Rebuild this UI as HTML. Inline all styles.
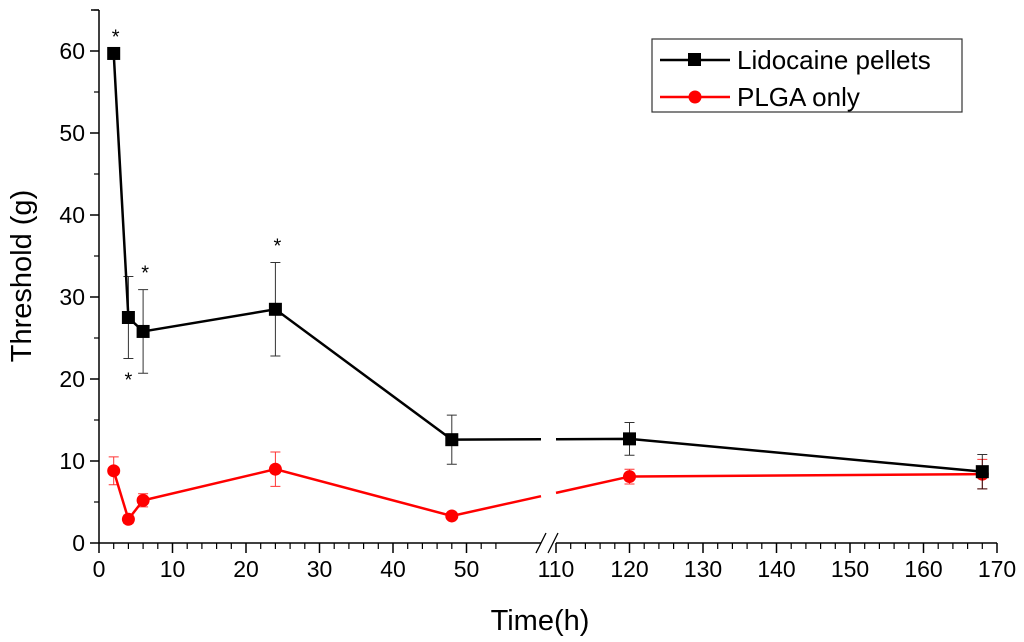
<!DOCTYPE html>
<html><head><meta charset="utf-8"><style>
html,body{margin:0;padding:0;background:#fff;}
svg{display:block;font-family:"Liberation Sans",Arial,sans-serif;}
</style></head><body>
<svg id="chart" width="1024" height="642" viewBox="0 0 1024 642" xmlns="http://www.w3.org/2000/svg">
<g id="axes"></g>
<g id="series"></g>
<g>
  <rect x="652" y="39" width="310" height="73" fill="#fff" stroke="#333" stroke-width="1.2"/>
  <g>
    <line x1="660" y1="60" x2="730" y2="60" stroke="#000" stroke-width="2.5"/>
    <rect x="688" y="53" width="13" height="13" fill="#000"/>
    <text x="737" y="69" font-size="26">Lidocaine pellets</text>
  </g>
  <g>
    <line x1="660" y1="97" x2="730" y2="97" stroke="#f00" stroke-width="2.5"/>
    <circle cx="695" cy="97" r="6.5" fill="#f00"/>
    <text x="737" y="106" font-size="26">PLGA only</text>
  </g>
</g>
<text x="540" y="630" font-size="29" text-anchor="middle">Time(h)</text>
<text transform="translate(31,276) rotate(-90)" font-size="29" text-anchor="middle">Threshold (g)</text>
</svg>
<script>
const times = [2, 4, 6, 24, 48, 120, 168];
const lidoValues = [59.7, 27.5, 25.8, 28.5, 12.6, 12.7, 8.7];
const lidoErrors = [0, 5.0, 5.1, 5.7, 3.0, 2.0, 2.1];
const plgaValues = [8.8, 2.9, 5.2, 9.0, 3.3, 8.1, 8.4];
const plgaErrors = [1.7, 0.5, 0.8, 2.1, 0.3, 0.9, 1.8];
const starTimes = [2, 4, 6, 24];
const starBelow = [false, true, false, false];
const xTicksLeft = [0, 10, 20, 30, 40, 50];
const xTicksRight = [110, 120, 130, 140, 150, 160, 170];
const yTicks = [0, 10, 20, 30, 40, 50, 60];

const NS = "http://www.w3.org/2000/svg";
const X0 = 99, Y0 = 543, XR = 556, K = 7.35;
function xs(t){ return t <= 56 ? X0 + t * K : XR + (t - 110) * K; }
function ys(v){ return Y0 - v * 8.2; }
function mk(tag, attrs, parent){ const e = document.createElementNS(NS, tag); for (const k in attrs) e.setAttribute(k, attrs[k]); parent.appendChild(e); return e; }

const axes = document.getElementById('axes');
const series = document.getElementById('series');
let el;
el = mk('line', {x1:X0, y1:10, x2:X0, y2:Y0, stroke:'#000', 'stroke-width':1.5}, axes);


el = mk('path', {d:`M${X0} ${Y0}H541 M556 ${Y0}H${xs(170)}`, stroke:'#000', 'stroke-width':1.5, fill:'none'}, axes);


el = mk('path', {d:`M536 ${Y0+10}L546 ${Y0-10} M548 ${Y0+10}L558 ${Y0-10}`, stroke:'#000', 'stroke-width':1.3, fill:'none'}, axes);


mk('line', {x1:X0-8, y1:10, x2:X0, y2:10, stroke:'#000', 'stroke-width':1.5}, axes);
yTicks.forEach((v, i) => {
  const y = ys(v);
  mk('line', {x1:X0-9, y1:y, x2:X0, y2:y, stroke:'#000', 'stroke-width':1.5}, axes);
  mk('line', {x1:X0-5, y1:ys(v+5), x2:X0, y2:ys(v+5), stroke:'#000', 'stroke-width':1.2}, axes);
  const t = mk('text', {x:X0-14, y:y+8, 'font-size':23, 'text-anchor':'end'}, axes);
  t.textContent = v;
  
  
});
function xTickSet(ticks, minorEnd){
  ticks.forEach((v, i) => {
    const x = xs(v);
    mk('line', {x1:x, y1:Y0, x2:x, y2:Y0+10, stroke:'#000', 'stroke-width':1.5}, axes);
    for (let m = 2; m < 10; m += 2) {
      if (v + m > minorEnd) break;
      const xm = xs(v + m);
      mk('line', {x1:xm, y1:Y0, x2:xm, y2:Y0+6, stroke:'#000', 'stroke-width':1.2}, axes);
    }
    const t = mk('text', {x:x, y:Y0+34, 'font-size':23, 'text-anchor':'middle'}, axes);
    t.textContent = v;
    
    
  });
}
xTickSet(xTicksLeft, 54);
xTickSet(xTicksRight, 169);

function drawSeries(vals, errs, color, name, square){
  const g = mk('g', {}, series);
  
  
  let dL = '', dR = '';
  times.forEach((t, i) => {
    const p = `${xs(t)} ${ys(vals[i])}`;
    if (t <= 56) dL += (dL ? 'L' : 'M') + p; else dR += (dR ? 'L' : 'M') + p;
  });
  const iL = times.findIndex(t => t > 56) - 1, iR = iL + 1;
  const x1 = xs(times[iL]), y1 = ys(vals[iL]), x2 = xs(times[iR]), y2 = ys(vals[iR]);
  const yAt = x => y1 + (y2 - y1) * (x - x1) / (x2 - x1);
  dL += `L541 ${yAt(541)}`;
  dR = `M556 ${yAt(556)}L` + dR.slice(1);
  mk('path', {d:dL + dR, stroke:color, 'stroke-width':2.5, fill:'none'}, g);
  times.forEach((t, i) => {
    const x = xs(t), e = errs[i];
    if (e > 0) {
      const a = ys(vals[i] + e), b = ys(vals[i] - e);
      mk('path', {d:`M${x} ${a}V${b}M${x-5} ${a}H${x+5}M${x-5} ${b}H${x+5}`, stroke:color, 'stroke-width':1, fill:'none', opacity:0.8}, g);
    }
    let m;
    if (square) m = mk('rect', {x:x-6.5, y:ys(vals[i])-6.5, width:13, height:13, fill:color}, g);
    else m = mk('circle', {cx:x, cy:ys(vals[i]), r:6.5, fill:color}, g);
    
    
  });
}
drawSeries(plgaValues, plgaErrors, '#f00', 'plga-series', false);
drawSeries(lidoValues, lidoErrors, '#000', 'lidocaine-series', true);

starTimes.forEach((t, j) => {
  const i = times.indexOf(t);
  const y = starBelow[j] ? ys(lidoValues[i] - lidoErrors[i]) + 28 : ys(lidoValues[i] + lidoErrors[i]) - 10;
  const s = mk('text', {x:xs(t) + (starBelow[j] ? 0 : 2), y:y, 'font-size':20, 'text-anchor':'middle'}, series);
  s.textContent = '*';
  
  
});
</script>
</body></html>
